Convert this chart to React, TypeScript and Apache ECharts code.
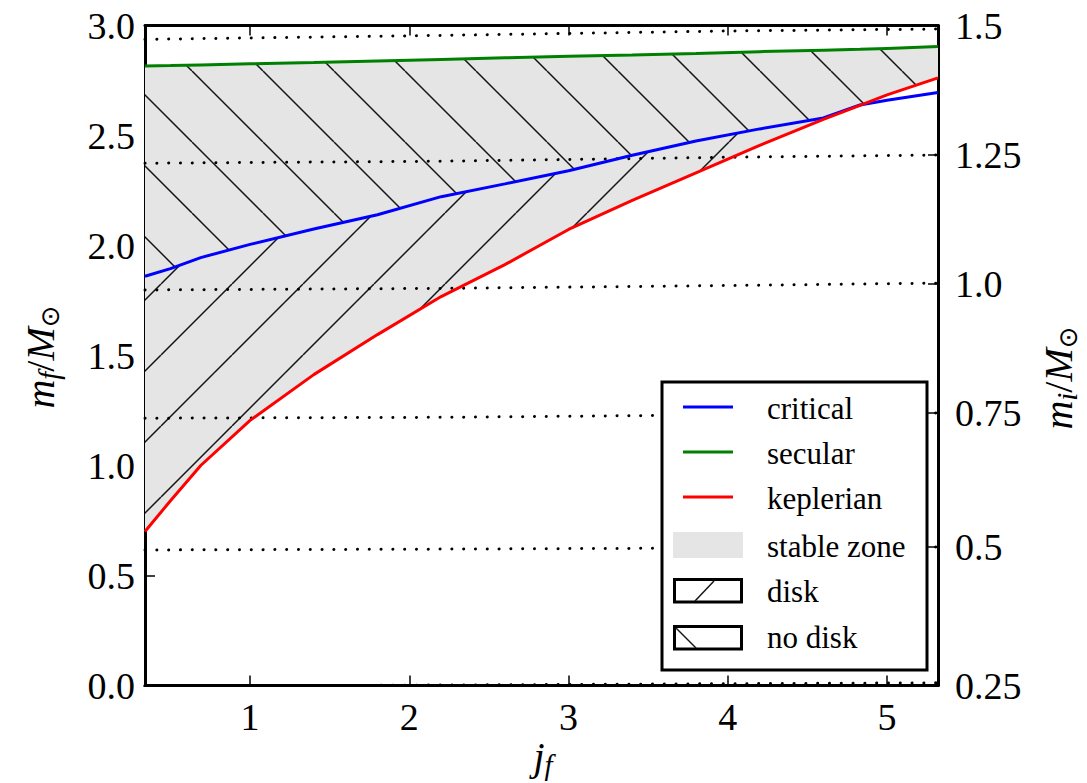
import React, { useEffect, useRef } from 'react';
import * as echarts from 'echarts';

// ---- data ----
const jGrid = [0.34, 0.5, 0.69, 1.0, 1.4, 1.8, 2.2, 2.6, 3.0, 3.4, 3.8, 4.2, 4.6, 4.83, 5.0, 5.32];
const critical = [1.86, 1.895, 1.945, 2.005, 2.075, 2.14, 2.222, 2.28, 2.34, 2.41, 2.475, 2.53, 2.58, 2.639, 2.66, 2.695];
const secular = [2.816, 2.818, 2.821, 2.826, 2.832, 2.839, 2.846, 2.853, 2.86, 2.866, 2.873, 2.881, 2.888, 2.892, 2.896, 2.904];
const keplerian = [0.70, 0.84, 1.0, 1.205, 1.413, 1.595, 1.768, 1.913, 2.073, 2.205, 2.33, 2.455, 2.573, 2.637, 2.685, 2.762];

// dotted iso-m_i lines (m_f values at dotJ)
const dotJ = [0.34, 2.2, 4.0, 5.32];
const dotMi150 = [2.937, 2.955, 2.975, 2.984];
const dotMi125 = [2.374, 2.383, 2.401, 2.411];
const dotMi100 = [1.798, 1.805, 1.818, 1.829];
const dotMi075 = [1.215, 1.219, 1.23, 1.239];
const dotMi050 = [0.616, 0.62, 0.625, 0.63];
const dotMi025 = [-0.004, 0.002, 0.008, 0.012];
const dottedLines = [dotMi150, dotMi125, dotMi100, dotMi075, dotMi050, dotMi025];

const xTicks = [1, 2, 3, 4, 5];
const rightTickPos = [0, 0.63, 1.239, 1.827, 2.413, 3.0];
const rightTickLabels = ['0.25', '0.5', '0.75', '1.0', '1.25', '1.5'];

const legendNames = ['critical', 'secular', 'keplerian', 'stable zone', 'disk', 'no disk'];

const SERIF = 'Liberation Serif';
const GRAY = '#e5e5e5';

function makeHatch(kind: 'fwd' | 'back'): HTMLCanvasElement {
  const S = 71;
  const c = document.createElement('canvas');
  c.width = S;
  c.height = S;
  const ctx = c.getContext('2d')!;
  ctx.fillStyle = GRAY;
  ctx.fillRect(0, 0, S, S);
  ctx.strokeStyle = '#151515';
  ctx.lineWidth = 1.5;
  ctx.beginPath();
  if (kind === 'fwd') {
    for (const cc of [19, 90]) {
      ctx.moveTo(cc, 0);
      ctx.lineTo(cc - S, S);
    }
  } else {
    for (const cc of [50, -21]) {
      ctx.moveTo(cc, 0);
      ctx.lineTo(cc + S, S);
    }
  }
  ctx.stroke();
  return c;
}

export default function App() {
  const ref = useRef<HTMLDivElement>(null);

  useEffect(() => {
    if (!ref.current) return;
    const chart = echarts.init(ref.current, undefined, { renderer: 'svg' });

    const mid = keplerian.map((k, i) => Math.max(k, critical[i]));

    const fwd = { image: makeHatch('fwd'), repeat: 'repeat', imageWidth: 71, imageHeight: 71 };
    const back = { image: makeHatch('back'), repeat: 'repeat', imageWidth: 71, imageHeight: 71 };

    // bands: [lower curve, upper curve, fill]
    const bands: [number[], number[], any][] = [
      [keplerian, mid, fwd],
      [mid, secular, back],
    ];

    const tickStyle = { color: '#000', width: 1.5 };
    const axisLineStyle = { show: true, onZero: false, lineStyle: { color: '#000', width: 3 } };
    const labelBase = { fontSize: 38, fontFamily: SERIF, color: '#000' };

    const nameRich: any = {
      i: { fontFamily: SERIF, fontStyle: 'italic', fontSize: 40, lineHeight: 46, color: '#000' },
      n: { fontFamily: SERIF, fontSize: 40, lineHeight: 46, color: '#000' },
      s: { fontFamily: SERIF, fontStyle: 'italic', fontSize: 29, lineHeight: 28, verticalAlign: 'bottom', color: '#000' },
      o: { fontFamily: 'DejaVu Sans', fontSize: 26, lineHeight: 28, verticalAlign: 'bottom', color: '#000' },
    };

    const lineSeries = (name: string, ys: number[], color: string) => ({
      name,
      type: 'line',
      data: jGrid.map((j, i) => [j, ys[i]]),
      symbol: 'none',
      silent: true,
      lineStyle: { color, width: 3 },
      z: 5,
    });

    const legendY = [408, 453, 498, 546, 591, 637];
    const legendLineColors = ['#0000ff', '#008000', '#ff0000'];
    const graphic: any[] = [
      {
        type: 'rect',
        z: 100,
        shape: { x: 662, y: 382, width: 265, height: 288 },
        style: { fill: '#fff', stroke: '#000', lineWidth: 3 },
      },
    ];
    legendLineColors.forEach((c, k) => {
      graphic.push({
        type: 'line',
        z: 101,
        shape: { x1: 683, y1: legendY[k] - 1, x2: 733, y2: legendY[k] - 1 },
        style: { stroke: c, lineWidth: 3 },
      });
    });
    graphic.push({
      type: 'rect',
      z: 101,
      shape: { x: 673, y: 532, width: 70, height: 26 },
      style: { fill: GRAY, lineWidth: 0 },
    });
    graphic.push({
      type: 'rect',
      z: 101,
      shape: { x: 674.5, y: 579.5, width: 67, height: 22.5 },
      style: { fill: '#fff', stroke: '#000', lineWidth: 3 },
    });
    graphic.push({
      type: 'line',
      z: 102,
      shape: { x1: 695, y1: 601, x2: 714, y2: 581 },
      style: { stroke: '#151515', lineWidth: 1.5 },
    });
    graphic.push({
      type: 'rect',
      z: 101,
      shape: { x: 674.5, y: 626.5, width: 67, height: 22.5 },
      style: { fill: '#fff', stroke: '#000', lineWidth: 3 },
    });
    graphic.push({
      type: 'line',
      z: 102,
      shape: { x1: 676, y1: 628, x2: 696, y2: 648 },
      style: { stroke: '#151515', lineWidth: 1.5 },
    });
    legendNames.forEach((t, k) => {
      graphic.push({
        type: 'text',
        z: 102,
        x: 767,
        y: legendY[k],
        style: {
          text: t,
          fontSize: 31,
          fontFamily: SERIF,
          fill: '#000',
          textVerticalAlign: 'middle',
          verticalAlign: 'middle',
          textAlign: 'left',
          align: 'left',
        },
      });
    });
    // axis names
    const nameText = (text: string, x: number, y: number, rot: number) => ({
      type: 'text',
      z: 50,
      x,
      y,
      rotation: rot,
      style: {
        text,
        rich: nameRich,
        fill: '#000',
        textAlign: 'center',
        align: 'center',
        textVerticalAlign: 'middle',
        verticalAlign: 'middle',
      },
    });
    graphic.push(nameText('{i|m}{s|f}{n|/}{i|M}{o|⊙}', 40, 357, Math.PI / 2));
    graphic.push(nameText('{i|m}{s|i}{n|/}{i|M}{o|⊙}', 1058, 378, Math.PI / 2));
    graphic.push(nameText('{i|j}{s|f}', 543, 756, 0));

    const option: any = {
      animation: false,
      backgroundColor: '#fff',
      textStyle: { fontFamily: SERIF },
      grid: {
        left: 145,
        right: 149,
        top: 25.5,
        bottom: 97.5,
        containLabel: false,
        outerBoundsMode: 'none',
      },
      xAxis: [
        {
          type: 'value',
          position: 'bottom',
          min: 0.34,
          max: 5.32,
          axisLine: axisLineStyle,
          axisTick: { show: true, inside: true, length: 10, customValues: xTicks, lineStyle: tickStyle },
          axisLabel: { ...labelBase, margin: 12, customValues: xTicks, formatter: (v: number) => String(v) },
          splitLine: { show: false },
        },
        {
          type: 'value',
          position: 'top',
          min: 0.34,
          max: 5.32,
          axisLine: axisLineStyle,
          axisTick: { show: true, inside: true, length: 10, customValues: xTicks, lineStyle: tickStyle },
          axisLabel: { show: false },
          splitLine: { show: false },
        },
      ],
      yAxis: [
        {
          type: 'value',
          position: 'left',
          min: 0,
          max: 3,
          interval: 0.5,
          axisLine: axisLineStyle,
          axisTick: { show: true, inside: true, length: 10, lineStyle: tickStyle },
          axisLabel: { ...labelBase, margin: 10, formatter: (v: number) => v.toFixed(1) },
          splitLine: { show: false },
        },
        {
          type: 'value',
          position: 'right',
          min: 0,
          max: 3,
          axisLine: axisLineStyle,
          axisTick: { show: true, inside: true, length: 10, customValues: rightTickPos, lineStyle: tickStyle },
          axisLabel: {
            ...labelBase,
            margin: 17,
            customValues: rightTickPos,
            formatter: (v: number) => {
              let best = 0;
              rightTickPos.forEach((p, k) => {
                if (Math.abs(p - v) < Math.abs(rightTickPos[best] - v)) best = k;
              });
              return rightTickLabels[best];
            },
          },
          splitLine: { show: false },
        },
      ],
      series: [
        {
          name: 'zones',
          type: 'custom',
          silent: true,
          z: 1,
          data: [[1, 1], [1, 1]],
          renderItem: (params: any, api: any) => {
            const [lo, hi, fill] = bands[params.dataIndex];
            const pts: number[][] = [];
            jGrid.forEach((j, i) => pts.push(api.coord([j, lo[i]])));
            for (let i = jGrid.length - 1; i >= 0; i--) pts.push(api.coord([jGrid[i], hi[i]]));
            return {
              type: 'polygon',
              shape: { points: pts },
              style: { fill, stroke: null, lineWidth: 0 },
            };
          },
        },
        ...dottedLines.map((ys, k) => ({
          name: 'mi' + k,
          type: 'line',
          data: dotJ.map((j, i) => [j, ys[i]]),
          symbol: 'none',
          silent: true,
          lineStyle: { color: '#000', width: 3, type: [0.1, 11.7], cap: 'round' },
          z: 3,
        })),
        lineSeries('critical', critical, '#0000ff'),
        lineSeries('secular', secular, '#008000'),
        lineSeries('keplerian', keplerian, '#ff0000'),
      ],
      graphic,
    };

    chart.setOption(option);
    return () => chart.dispose();
  }, []);

  return (
    <div
      ref={ref}
      style={{ position: 'absolute', left: 0, top: 0, width: 1087, height: 783 }}
    />
  );
}
